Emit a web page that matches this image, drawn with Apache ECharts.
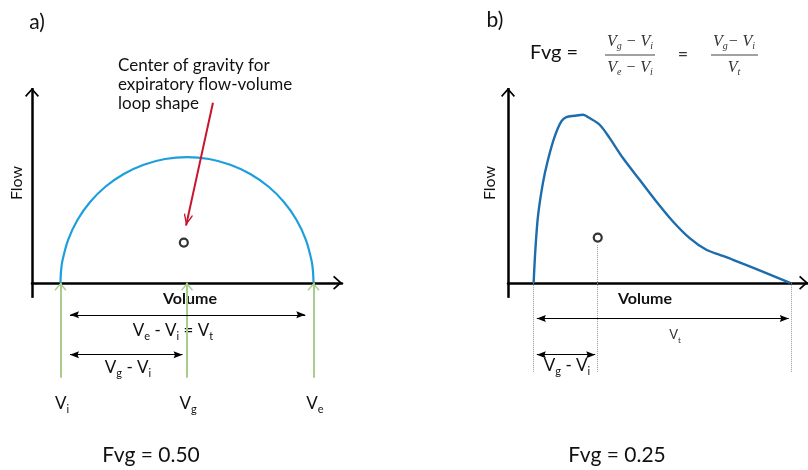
<!DOCTYPE html>
<html>
<head>
<meta charset="utf-8">
<script src="https://cdn.jsdelivr.net/npm/echarts@6.0.0/dist/echarts.min.js"></script>
<style>html,body{margin:0;padding:0;background:#fff;}#chart{width:808px;height:470px;}</style>
</head>
<body>
<div id="chart"></div>
<script>
// ---------- Data ----------
// Panel a: symmetric expiratory flow-volume loop (semicircle)
const loopA_volume = [1.000,1.008,1.030,1.121,1.268,1.468,1.714,2.000,2.316,2.653,3.000,3.347,3.684,4.000,4.286,4.532,4.732,4.879,4.970,4.992,5.000];
const loopA_flow   = [0.000,0.174,0.347,0.684,1.000,1.286,1.532,1.732,1.879,1.970,2.000,1.970,1.879,1.732,1.532,1.286,1.000,0.684,0.347,0.174,0.000];
// Panel b: skewed expiratory flow-volume loop
const loopB_volume = [1.00,1.027,1.067,1.145,1.223,1.328,1.432,1.51,1.64,1.77,1.874,2.03,2.186,2.393,2.653,2.914,3.173,3.434,3.694,3.902,4.11,4.63,5.00];
const loopB_flow   = [0.00,0.525,1.054,1.59,1.955,2.326,2.567,2.637,2.658,2.674,2.621,2.515,2.303,1.985,1.639,1.294,0.976,0.711,0.525,0.446,0.366,0.154,0.00];
// Centers of gravity [volume, flow]
const centerA = [2.95, 0.64];
const centerB = [2.00, 0.72];
// Volume markers Vi, Vg, Ve
const markerNames = ['i', 'g', 'e'];
const markersA = [1, 3, 5];
const markersB = [1, 2, 5];
const fvgValues = ['0.50', '0.25'];

// ---------- Layout / style ----------
const FONT = 'Lato';
const CHEV = 'path://M70,0 L140,78 L128,90 L70,26 L12,90 L0,78 Z';
const TRI = 'path://M50,0 L100,100 L50,84 L0,100 Z';
const BLUE_A = '#1c9fdc', BLUE_B = '#1d6cab', GREEN = '#a9cd8e', RED = '#c8142c';
const Y_MIN = -2.2, Y_MAX = 3.1;
const AX_LOW = -0.24, ARROW_LOW = -1.51, DOT_LOW = -1.415, DIM_LOW = -1.145;

function zip(a, b) { return a.map((v, i) => [v, b[i]]); }
function seg(p1, p2, color, width, type, s1, s2, size) {
  const ls = { color: color, width: width, type: type || 'solid' };
  const sz = size || [10, 10];
  const off = [0, sz[1] / 2];
  return [
    { coord: p1, symbol: s1 || 'none', symbolSize: sz, symbolOffset: off, lineStyle: ls },
    { coord: p2, symbol: s2 || 'none', symbolSize: sz, symbolOffset: off, lineStyle: ls }
  ];
}

const xMinA = 0.55, xMaxA = 5.45, xMinB = 0.6, xMaxB = 5.28;

const linesA = [
  seg([xMinA, AX_LOW], [xMinA, Y_MAX], '#000', 2.5, 'solid', 'none', CHEV, [14, 9]),
  ...markersA.map(v => seg([v, ARROW_LOW], [v, 0], GREEN, 2, 'solid', 'none', CHEV, [12, 8])),
  seg([markersA[0] + 0.15, -0.51], [markersA[2] - 0.13, -0.51], '#000', 1.2, 'solid', TRI, TRI, [7, 9]),
  seg([markersA[0] + 0.15, DIM_LOW], [markersA[1] - 0.07, DIM_LOW], '#000', 1.2, 'solid', TRI, TRI, [7, 9]),
  seg([3.41, 2.865], [2.985, 0.91], RED, 2, 'solid', 'none', CHEV, [9, 12])
];
const linesB = [
  seg([xMinB, AX_LOW], [xMinB, Y_MAX], '#000', 2.5, 'solid', 'none', CHEV, [14, 9]),
  seg([markersB[0], 0], [markersB[0], DOT_LOW], '#9a9a9a', 1, 'dotted'),
  seg([markersB[1], 0.6], [markersB[1], DOT_LOW], '#9a9a9a', 1, 'dotted'),
  seg([markersB[2] + 0.02, 0], [markersB[2] + 0.02, DOT_LOW], '#9a9a9a', 1, 'dotted'),
  seg([markersB[0] + 0.05, -0.57], [markersB[2] - 0.02, -0.57], '#000', 1.2, 'solid', TRI, TRI, [7, 9]),
  seg([markersB[0] + 0.05, DIM_LOW], [markersB[1] - 0.04, DIM_LOW], '#000', 1.2, 'solid', TRI, TRI, [7, 9])
];

function xAxisCfg(idx, min, max) {
  return {
    type: 'value', gridIndex: idx, min: min, max: max,
    axisLine: { show: true, onZero: true, symbol: ['none', CHEV], symbolSize: [14, 9], symbolOffset: [0, -4.5],
                lineStyle: { color: '#000', width: 2.5 } },
    axisTick: { show: false }, axisLabel: { show: false }, splitLine: { show: false }
  };
}
function yAxisCfg(idx) {
  return { type: 'value', gridIndex: idx, min: Y_MIN, max: Y_MAX, show: false };
}

// rich text helpers
const richSans = {
  m: { fontFamily: FONT, fontSize: 17, lineHeight: 22, fill: '#111' },
  s: { fontFamily: FONT, fontSize: 11, lineHeight: 9, verticalAlign: 'bottom', fill: '#111' },
  ms: { fontFamily: FONT, fontSize: 13, lineHeight: 18, fill: '#333' },
  ss: { fontFamily: FONT, fontSize: 8, lineHeight: 7, verticalAlign: 'bottom', fill: '#333' }
};
const richSerif = {
  n: { fontFamily: 'Liberation Serif', fontStyle: 'italic', fontSize: 16, lineHeight: 18, fill: '#333' },
  ns: { fontFamily: 'Liberation Serif', fontStyle: 'italic', fontSize: 10, lineHeight: 8, verticalAlign: 'bottom', fill: '#333' }
};
function txt(x, y, text, extra, rotation) {
  const el = {
    type: 'text', x: x, y: y, silent: true,
    style: Object.assign({ text: text, fill: '#111', fontFamily: FONT, fontSize: 16,
                           align: 'center', verticalAlign: 'middle' }, extra || {})
  };
  if (rotation) el.rotation = rotation;
  return el;
}
function hline(x1, x2, y) {
  return { type: 'line', silent: true, shape: { x1: x1, y1: y, x2: x2, y2: y },
           style: { stroke: '#444', lineWidth: 1 } };
}

const graphics = [
  txt(37, 22, 'a)', { fontSize: 21 }),
  txt(495, 20, 'b)', { fontSize: 21 }),
  txt(118, 56, 'Center of gravity for\nexpiratory flow-volume\nloop shape',
      { align: 'left', verticalAlign: 'top', lineHeight: 19, fontSize: 17 }),
  txt(17, 183, 'Flow', { fontSize: 16 }, Math.PI / 2),
  txt(490, 183, 'Flow', { fontSize: 16 }, Math.PI / 2),
  txt(190, 299, 'Volume', { fontSize: 16, fontWeight: 'bold' }),
  txt(645, 299, 'Volume', { fontSize: 16, fontWeight: 'bold' }),
  txt(173, 331, '{m|V}{s|e}{m| - V}{s|i}{m| = V}{s|t}', { rich: richSans }),
  txt(128, 368, '{m|V}{s|g}{m| - V}{s|i}', { rich: richSans }),
  ...markersA.map((v, i) => txt([62, 188, 315][i], 404, '{m|V}{s|' + markerNames[i] + '}', { rich: richSans })),
  txt(151, 455, 'Fvg = ' + fvgValues[0], { fontSize: 21 }),
  txt(617, 455, 'Fvg = ' + fvgValues[1], { fontSize: 21 }),
  txt(675, 335, '{ms|V}{ss|t}', { rich: richSans }),
  txt(567, 366, '{m|V}{s|g}{m| - V}{s|i}', { rich: richSans }),
  txt(530, 53, 'Fvg =', { fontSize: 20, align: 'left' }),
  txt(630, 42, '{n|V}{ns|g}{n| − V}{ns|i}', { rich: richSerif }),
  hline(605, 655, 55),
  txt(630, 68, '{n|V}{ns|e}{n| − V}{ns|i}', { rich: richSerif }),
  txt(683, 54, '=', { fontSize: 18, fill: '#333' }),
  txt(734, 42, '{n|V}{ns|g}{n|− V}{ns|i}', { rich: richSerif }),
  hline(711, 758, 55),
  txt(734, 68, '{n|V}{ns|t}', { rich: richSerif })
];

const chart = echarts.init(document.getElementById('chart'), null, { renderer: 'canvas' });
chart.setOption({
  animation: false,
  backgroundColor: '#fff',
  grid: [
    { left: 32, top: 88, width: 310, height: 333 },
    { left: 508, top: 88, width: 300, height: 333 }
  ],
  xAxis: [xAxisCfg(0, xMinA, xMaxA), xAxisCfg(1, xMinB, xMaxB)],
  yAxis: [yAxisCfg(0), yAxisCfg(1)],
  series: [
    { type: 'line', name: 'Loop a', xAxisIndex: 0, yAxisIndex: 0, data: zip(loopA_volume, loopA_flow),
      showSymbol: false, smooth: 0.3, lineStyle: { color: BLUE_A, width: 2.2 }, z: 3, silent: true },
    { type: 'line', name: 'Loop b', xAxisIndex: 1, yAxisIndex: 1, data: zip(loopB_volume, loopB_flow),
      showSymbol: false, smooth: 0.3, lineStyle: { color: BLUE_B, width: 2.4 }, z: 3, silent: true },
    { type: 'scatter', name: 'Center a', xAxisIndex: 0, yAxisIndex: 0, data: [centerA],
      symbol: 'circle', symbolSize: 8, z: 5, silent: true,
      itemStyle: { color: '#fff', borderColor: '#000', borderWidth: 2.2 },
      markLine: { silent: true, animation: false, label: { show: false }, data: linesA } },
    { type: 'scatter', name: 'Center b', xAxisIndex: 1, yAxisIndex: 1, data: [centerB],
      symbol: 'circle', symbolSize: 8, z: 5, silent: true,
      itemStyle: { color: '#fff', borderColor: '#000', borderWidth: 2.2 },
      markLine: { silent: true, animation: false, label: { show: false }, data: linesB } }
  ],
  graphic: graphics
});
</script>
</body>
</html>
